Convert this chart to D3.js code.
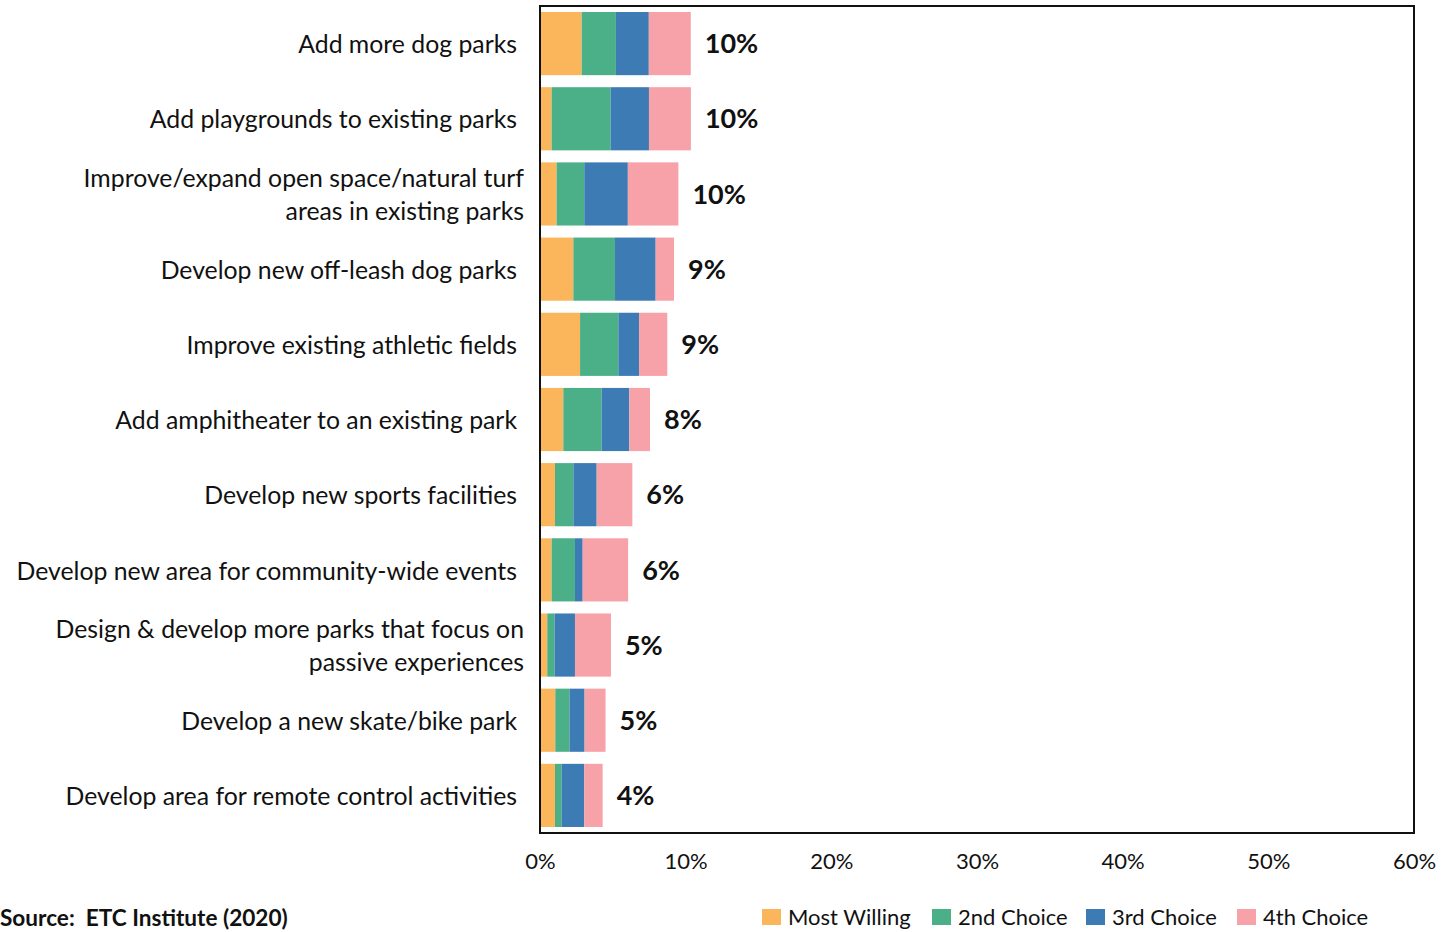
<!DOCTYPE html>
<html>
<head>
<meta charset="utf-8">
<script src="https://cdn.jsdelivr.net/npm/d3@7"></script>
<style>
  html, body { margin: 0; padding: 0; background: #fff; }
  svg { display: block; }
  text { font-family: Lato, "Open Sans", sans-serif; fill: #111; }
</style>
</head>
<body>
<svg id="chart" width="1442" height="932"></svg>
<script>
// Facilities respondents would be most willing to fund (share of respondents, %)
const categories = [
  ["Add more dog parks"],
  ["Add playgrounds to existing parks"],
  ["Improve/expand open space/natural turf", "areas in existing parks"],
  ["Develop new off-leash dog parks"],
  ["Improve existing athletic fields"],
  ["Add amphitheater to an existing park"],
  ["Develop new sports facilities"],
  ["Develop new area for community-wide events"],
  ["Design & develop more parks that focus on", "passive experiences"],
  ["Develop a new skate/bike park"],
  ["Develop area for remote control activities"]
];
const seriesNames = ["Most Willing", "2nd Choice", "3rd Choice", "4th Choice"];
const mostWilling = [2.86, 0.80, 1.14, 2.29, 2.75, 1.60, 1.03, 0.80, 0.50, 1.05, 1.03];
const secondChoice = [2.35, 4.05, 1.90, 2.86, 2.63, 2.63, 1.26, 1.60, 0.50, 0.98, 0.46];
const thirdChoice = [2.26, 2.63, 2.99, 2.79, 1.42, 1.90, 1.60, 0.53, 1.40, 1.03, 1.55];
const fourthChoice = [2.88, 2.88, 3.47, 1.26, 1.94, 1.42, 2.45, 3.12, 2.47, 1.44, 1.26];
const xTicks = [0, 10, 20, 30, 40, 50, 60];
const colors = ["#FBB55A", "#4BB087", "#3D7BB4", "#F6A2A8"];

const rows = categories.map((lines, i) => ({
  key: i,
  lines,
  "Most Willing": mostWilling[i],
  "2nd Choice": secondChoice[i],
  "3rd Choice": thirdChoice[i],
  "4th Choice": fourthChoice[i]
}));

const svg = d3.select("#chart");
const plot = { left: 540, right: 1414, top: 6, bottom: 833 };

const x = d3.scaleLinear().domain([0, 60]).range([plot.left, plot.right]);
const y = d3.scaleBand()
  .domain(rows.map(d => d.key))
  .range([plot.top, plot.bottom])
  .paddingInner(0.16)
  .paddingOuter(0.08);
const color = d3.scaleOrdinal().domain(seriesNames).range(colors);

const stacked = d3.stack().keys(seriesNames)(rows);

// stacked bar segments
svg.append("g")
  .selectAll("g")
  .data(stacked)
  .join("g")
  .attr("fill", s => color(s.key))
  .selectAll("rect")
  .data(s => s)
  .join("rect")
  .attr("x", d => x(d[0]))
  .attr("y", d => y(d.data.key))
  .attr("width", d => x(d[1]) - x(d[0]))
  .attr("height", y.bandwidth());

// plot frame
svg.append("rect")
  .attr("x", plot.left)
  .attr("y", plot.top)
  .attr("width", plot.right - plot.left)
  .attr("height", plot.bottom - plot.top)
  .attr("fill", "none")
  .attr("stroke", "#111")
  .attr("stroke-width", 2);

// total labels
const total = d => seriesNames.reduce((s, k) => s + d[k], 0);
svg.append("g")
  .selectAll("text")
  .data(rows)
  .join("text")
  .attr("x", d => x(total(d)) + 14)
  .attr("y", d => y(d.key) + y.bandwidth() / 2)
  .attr("dy", "0.36em")
  .attr("font-size", 27)
  .attr("font-weight", "bold")
  .text(d => Math.round(total(d)) + "%");

// category labels
const catG = svg.append("g");
rows.forEach(d => {
  const cy = y(d.key) + y.bandwidth() / 2 + 1;
  const n = d.lines.length;
  const t = catG.append("text")
    .attr("text-anchor", "end")
    .attr("font-size", 24.8)
    .attr("x", n > 1 ? 524 : 517)
    .attr("y", cy);
  d.lines.forEach((line, j) => {
    t.append("tspan")
      .attr("x", n > 1 ? 524 : 517)
      .attr("y", cy + (j - (n - 1) / 2) * 33)
      .attr("dy", "0.35em")
      .text(line);
  });
});

// x axis tick labels
const xAxis = d3.axisBottom(x)
  .tickValues(xTicks)
  .tickSize(0)
  .tickPadding(0)
  .tickFormat(d => d + "%");
const axG = svg.append("g")
  .attr("transform", `translate(0, ${plot.bottom + 20})`)
  .call(xAxis);
axG.select(".domain").remove();
axG.selectAll("text")
  .attr("font-size", 22)
  .attr("font-family", "Lato, 'Open Sans', sans-serif")
  .attr("fill", "#111");

// legend
const legendX = [762, 932, 1086, 1237];
const leg = svg.append("g");
seriesNames.forEach((name, i) => {
  leg.append("rect")
    .attr("x", legendX[i])
    .attr("y", 909)
    .attr("width", 19)
    .attr("height", 16)
    .attr("fill", color(name));
  leg.append("text")
    .attr("x", legendX[i] + 26)
    .attr("y", 917)
    .attr("dy", "0.36em")
    .attr("font-size", 22)
    .text(name);
});

// source note
svg.append("text")
  .attr("x", 0)
  .attr("y", 926)
  .attr("font-size", 22.6)
  .attr("font-weight", "bold")
  .attr("xml:space", "preserve")
  .text("Source:  ETC Institute (2020)");
</script>
</body>
</html>
